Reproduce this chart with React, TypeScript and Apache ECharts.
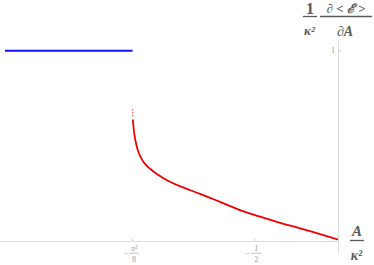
import React, { useEffect, useRef } from "react";
import * as echarts from "echarts";

// Data
const blueX = [-2, -1.2337];
const blueY = [1, 1];
const redX = [-1.2325, -1.231, -1.228, -1.225, -1.221, -1.215, -1.208, -1.199, -1.186, -1.169, -1.15, -1.129, -1.079, -1.019, -0.939, -0.829, -0.709, -0.589, -0.468, -0.348, -0.228, -0.108, -0.008, 0];
const redY = [0.64, 0.628, 0.6, 0.576, 0.55, 0.524, 0.497, 0.471, 0.445, 0.419, 0.4, 0.382, 0.349, 0.318, 0.287, 0.251, 0.209, 0.166, 0.131, 0.099, 0.07, 0.04, 0.014, 0.012];
const redDotsX = [-1.2336, -1.2335, -1.2333];
const redDotsY = [0.69, 0.675, 0.66];
const xTickValues = [-Math.PI * Math.PI / 8, -0.5];
const xTickNum = ["π²", "1"];
const xTickDen = ["8", "2"];
const yTickValues = [1];
const yTickLabels = ["1"];

const AXIS = "#dcdcdc";
const LABEL = "#9a9a9a";
const TITLE = "#5a5a5a";
const SERIF = "'Liberation Serif', 'DejaVu Serif', serif";

export default function App() {
  const ref = useRef<HTMLDivElement>(null);
  useEffect(() => {
    const chart = echarts.init(ref.current!, null, { renderer: "svg" });
    const option: any = {
      animation: false,
      grid: { left: 0, right: 36, top: 41.2, bottom: 11.8, containLabel: false },
      xAxis: {
        type: "value",
        min: -2.03,
        max: 0,
        axisLine: { show: true, onZero: true, lineStyle: { color: AXIS, width: 1 } },
        axisTick: { show: false },
        axisLabel: { show: false },
        splitLine: { show: false },
      },
      yAxis: {
        type: "value",
        min: -0.06,
        max: 1.05,
        axisLine: { show: true, onZero: true, lineStyle: { color: AXIS, width: 1 } },
        axisTick: { show: false },
        axisLabel: { show: false },
        splitLine: { show: false },
      },
      series: [
        {
          type: "line",
          data: blueX.map((x, i) => [x, blueY[i]]),
          showSymbol: false,
          lineStyle: { color: "#1010f0", width: 2 },
        },
        {
          type: "line",
          data: redX.map((x, i) => [x, redY[i]]),
          showSymbol: false,
          smooth: 0.4,
          lineStyle: { color: "#f00000", width: 1.8 },
        },
        {
          type: "scatter",
          data: redDotsX.map((x, i) => [x, redDotsY[i]]),
          symbolSize: 1.5,
          itemStyle: { color: "#f04040" },
        },
      ],
    };
    chart.setOption(option);

    const g: any[] = [];
    xTickValues.forEach((v, i) => {
      const [px, py] = chart.convertToPixel({ gridIndex: 0 }, [v, 0]) as number[];
      g.push({ type: "line", shape: { x1: px, y1: py, x2: px, y2: py - 3 }, style: { stroke: "#cccccc", lineWidth: 1 } });
      g.push({ type: "text", x: px - 7, y: py + 11.5, style: { text: "−", fill: LABEL, font: `8px ${SERIF}`, align: "center", verticalAlign: "middle" } });
      g.push({ type: "text", x: px + 1.5, y: py + 6.5, style: { text: xTickNum[i], fill: LABEL, font: `italic 8px ${SERIF}`, align: "center", verticalAlign: "middle" } });
      g.push({ type: "line", shape: { x1: px - 3.5, y1: py + 11.5, x2: px + 6.5, y2: py + 11.5 }, style: { stroke: LABEL, lineWidth: 0.6 } });
      g.push({ type: "text", x: px + 1.5, y: py + 17.5, style: { text: xTickDen[i], fill: LABEL, font: `8px ${SERIF}`, align: "center", verticalAlign: "middle" } });
    });
    yTickValues.forEach((v, i) => {
      const [px, py] = chart.convertToPixel({ gridIndex: 0 }, [0, v]) as number[];
      g.push({ type: "line", shape: { x1: px, y1: py, x2: px + 3, y2: py }, style: { stroke: "#cccccc", lineWidth: 1 } });
      g.push({ type: "text", x: px - 3, y: py, style: { text: yTickLabels[i], fill: LABEL, font: `8px ${SERIF}`, align: "right", verticalAlign: "middle" } });
    });
    // y axis title: 1/κ² ∂<ℰ>/∂A
    g.push({ type: "text", x: 310, y: 8.5, style: { text: "1", fill: TITLE, font: `bold 16px ${SERIF}`, align: "center", verticalAlign: "middle" } });
    g.push({ type: "line", shape: { x1: 303, y1: 16.5, x2: 317, y2: 16.5 }, style: { stroke: TITLE, lineWidth: 1.3 } });
    g.push({ type: "text", x: 309.5, y: 30.5, style: { text: "κ²", fill: TITLE, font: `bold italic 13px ${SERIF}`, align: "center", verticalAlign: "middle" } });
    g.push({ type: "text", x: 346, y: 8, style: { text: "∂ < ℰ >", fill: TITLE, font: `bold italic 13px ${SERIF}`, align: "center", verticalAlign: "middle" } });
    g.push({ type: "line", shape: { x1: 320, y1: 16.5, x2: 372, y2: 16.5 }, style: { stroke: TITLE, lineWidth: 1.3 } });
    g.push({ type: "text", x: 345, y: 31, style: { text: "∂A", fill: TITLE, font: `bold italic 14px ${SERIF}`, align: "center", verticalAlign: "middle" } });
    // x axis title: A/κ²
    g.push({ type: "text", x: 357, y: 231, style: { text: "A", fill: TITLE, font: `bold italic 15px ${SERIF}`, align: "center", verticalAlign: "middle" } });
    g.push({ type: "line", shape: { x1: 350, y1: 240.5, x2: 364, y2: 240.5 }, style: { stroke: TITLE, lineWidth: 1.3 } });
    g.push({ type: "text", x: 356.5, y: 255, style: { text: "κ²", fill: TITLE, font: `bold italic 14px ${SERIF}`, align: "center", verticalAlign: "middle" } });
    chart.setOption({ graphic: g });

    return () => chart.dispose();
  }, []);
  return <div ref={ref} style={{ position: "fixed", left: 0, top: 0, width: 374, height: 265, background: "#fff" }} />;
}
